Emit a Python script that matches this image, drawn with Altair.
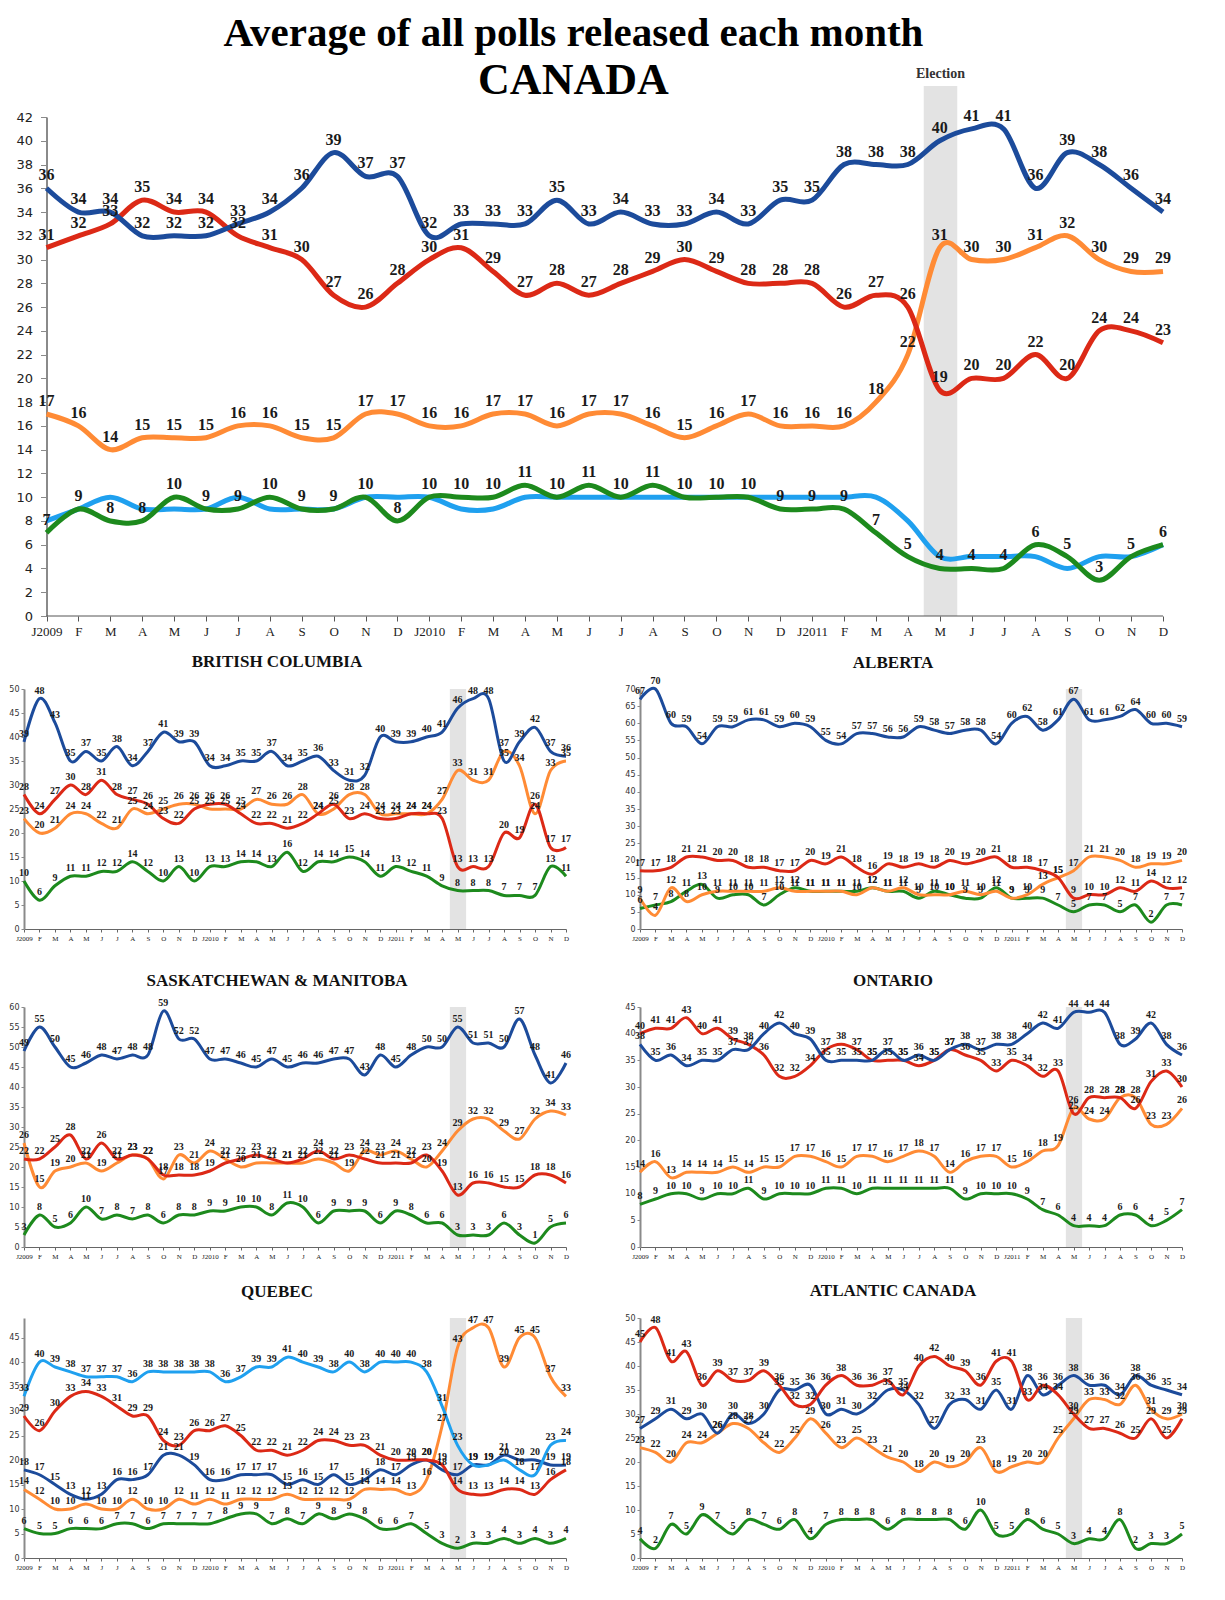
import altair as alt
import pandas as pd

SERIF = "Liberation Serif"
SANS = "DejaVu Sans"

MONTH_LABELS = ["J2009", "F", "M", "A", "M", "J", "J", "A", "S", "O", "N", "D",
                "J2010", "F", "M", "A", "M", "J", "J", "A", "S", "O", "N", "D",
                "J2011", "F", "M", "A", "M", "J", "J", "A", "S", "O", "N", "D"]

COLORS = {"CPC": "#1c4b9b", "LPC": "#dc2916", "NDP": "#ff8b35",
          "BQ": "#1fa0ef", "GPC": "#1d8a1d"}
BAND_COLOR = "#e3e3e3"
ELECTION_START = 27.5
ELECTION_END = 28.55

# ---------------- CANADA ----------------
can_cpc = [36, 34, 34, 32, 32, 32, 33, 34, 36, 39, 37, 37, 32, 33, 33, 33, 35, 33,
           34, 33, 33, 34, 33, 35, 35, 38, 38, 38, 40, 41, 41, 36, 39, 38, 36, 34]
can_lpc = [31, 32, 33, 35, 34, 34, 32, 31, 30, 27, 26, 28, 30, 31, 29, 27, 28, 27,
           28, 29, 30, 29, 28, 28, 28, 26, 27, 26, 19, 20, 20, 22, 20, 24, 24, 23]
can_ndp = [17, 16, 14, 15, 15, 15, 16, 16, 15, 15, 17, 17, 16, 16, 17, 17, 16, 17,
           17, 16, 15, 16, 17, 16, 16, 16, 18, 22, 31, 30, 30, 31, 32, 30, 29, 29]
can_bq = [8, 9, 10, 9, 9, 9, 10, 9, 9, 9, 10, 10, 10, 9, 9, 10, 10, 10,
          10, 10, 10, 10, 10, 10, 10, 10, 10, 8, 5, 5, 5, 5, 4, 5, 5, 6]
can_gpc = [7, 9, 8, 8, 10, 9, 9, 10, 9, 9, 10, 8, 10, 10, 10, 11, 10, 11,
           10, 11, 10, 10, 10, 9, 9, 9, 7, 5, 4, 4, 4, 6, 5, 3, 5, 6]

# ---------------- BRITISH COLUMBIA ----------------
bc_cpc = [39, 48, 43, 35, 37, 35, 38, 34, 37, 41, 39, 39, 34, 34, 35, 35, 37, 34,
          35, 36, 33, 31, 32, 40, 39, 39, 40, 41, 46, 48, 48, 35, 39, 42, 37, 36]
bc_lpc = [28, 24, 27, 30, 28, 31, 28, 27, 26, 23, 22, 25, 26, 26, 24, 22, 22, 21,
          22, 24, 26, 23, 24, 23, 23, 24, 24, 23, 13, 13, 13, 20, 19, 26, 17, 17]
bc_ndp = [23, 20, 21, 24, 24, 22, 21, 25, 24, 25, 26, 26, 25, 25, 25, 27, 26, 26,
          28, 24, 25, 28, 28, 24, 24, 24, 24, 27, 33, 31, 31, 37, 34, 24, 33, 35]
bc_gpc = [10, 6, 9, 11, 11, 12, 12, 14, 12, 10, 13, 10, 13, 13, 14, 14, 13, 16,
          12, 14, 14, 15, 14, 11, 13, 12, 11, 9, 8, 8, 8, 7, 7, 7, 13, 11]

# ---------------- ALBERTA ----------------
ab_cpc = [67, 70, 60, 59, 54, 59, 59, 61, 61, 59, 60, 59, 55, 54, 57, 57, 56, 56,
          59, 58, 57, 58, 58, 54, 60, 62, 58, 61, 67, 61, 61, 62, 64, 60, 60, 59]
ab_lpc = [17, 17, 18, 21, 21, 20, 20, 18, 18, 17, 17, 20, 19, 21, 18, 16, 19, 18,
          19, 18, 20, 19, 20, 21, 18, 18, 17, 15, 9, 10, 10, 12, 11, 14, 12, 12]
ab_ndp = [9, 4, 12, 8, 10, 11, 11, 11, 11, 12, 11, 11, 11, 11, 10, 12, 11, 12,
          10, 10, 10, 11, 10, 11, 9, 10, 13, 15, 17, 21, 21, 20, 18, 19, 19, 20]
ab_gpc = [6, 7, 8, 11, 13, 9, 10, 10, 7, 10, 12, 11, 11, 11, 11, 12, 11, 11,
          9, 11, 10, 9, 9, 12, 9, 9, 9, 7, 5, 7, 7, 5, 7, 2, 7, 7]

# ---------------- SASKATCHEWAN & MANITOBA ----------------
sk_cpc = [49, 55, 50, 45, 46, 48, 47, 48, 48, 59, 52, 52, 47, 47, 46, 45, 47, 45,
          46, 46, 47, 47, 43, 48, 45, 48, 50, 50, 55, 51, 51, 50, 57, 48, 41, 46]
sk_lpc = [22, 22, 25, 28, 22, 26, 22, 23, 22, 18, 18, 18, 19, 21, 22, 23, 22, 21,
          22, 24, 22, 23, 22, 21, 21, 21, 23, 19, 13, 16, 16, 15, 15, 18, 18, 16]
sk_ndp = [26, 15, 19, 20, 21, 19, 21, 23, 22, 17, 23, 21, 24, 22, 20, 21, 21, 21,
          21, 22, 21, 19, 24, 23, 24, 22, 20, 24, 29, 32, 32, 29, 27, 32, 34, 33]
sk_gpc = [3, 8, 5, 6, 10, 7, 8, 7, 8, 6, 8, 8, 9, 9, 10, 10, 8, 11,
          10, 6, 9, 9, 9, 6, 9, 8, 6, 6, 3, 3, 3, 6, 3, 1, 5, 6]

# ---------------- ONTARIO ----------------
on_cpc = [38, 35, 36, 34, 35, 35, 37, 37, 40, 42, 40, 39, 35, 35, 35, 35, 37, 35,
          36, 35, 37, 38, 37, 38, 38, 40, 42, 41, 44, 44, 44, 38, 39, 42, 38, 36]
on_lpc = [40, 41, 41, 43, 40, 41, 39, 38, 36, 32, 32, 34, 37, 38, 37, 35, 35, 35,
          34, 35, 37, 36, 35, 33, 35, 34, 32, 33, 25, 28, 28, 28, 26, 31, 33, 30]
on_ndp = [14, 16, 13, 14, 14, 14, 15, 14, 15, 15, 17, 17, 16, 15, 17, 17, 16, 17,
          18, 17, 14, 16, 17, 17, 15, 16, 18, 19, 26, 24, 24, 28, 28, 23, 23, 26]
on_gpc = [8, 9, 10, 10, 9, 10, 10, 11, 9, 10, 10, 10, 11, 11, 10, 11, 11, 11,
          11, 11, 11, 9, 10, 10, 10, 9, 7, 6, 4, 4, 4, 6, 6, 4, 5, 7]

# ---------------- QUEBEC ----------------
qc_bq = [33, 40, 39, 38, 37, 37, 37, 36, 38, 38, 38, 38, 38, 36, 37, 39, 39, 41,
         40, 39, 38, 40, 38, 40, 40, 40, 38, 31, 23, 19, 19, 20, 18, 17, 23, 24]
qc_lpc = [29, 26, 30, 33, 34, 33, 31, 29, 29, 24, 23, 26, 26, 27, 25, 22, 22, 21,
          22, 24, 24, 23, 23, 21, 20, 20, 20, 19, 14, 13, 13, 14, 14, 13, 16, 18]
qc_cpc = [18, 17, 15, 13, 12, 13, 16, 16, 17, 21, 21, 19, 16, 16, 17, 17, 17, 15,
          16, 15, 17, 15, 16, 18, 17, 19, 20, 18, 17, 19, 19, 21, 20, 20, 19, 19]
qc_ndp = [14, 12, 10, 10, 11, 10, 10, 12, 10, 10, 12, 11, 12, 11, 12, 12, 12, 13,
          12, 12, 12, 12, 14, 14, 14, 13, 16, 27, 43, 47, 47, 39, 45, 45, 37, 33]
qc_gpc = [6, 5, 5, 6, 6, 6, 7, 7, 6, 7, 7, 7, 7, 8, 9, 9, 7, 8,
          7, 9, 8, 9, 8, 6, 6, 7, 5, 3, 2, 3, 3, 4, 3, 4, 3, 4]

# ---------------- ATLANTIC CANADA ----------------
at_lpc = [45, 48, 41, 43, 36, 39, 37, 37, 39, 36, 32, 32, 36, 38, 36, 36, 37, 34,
          40, 42, 40, 39, 36, 41, 41, 33, 36, 34, 30, 27, 27, 26, 25, 29, 25, 29]
at_cpc = [27, 29, 31, 29, 30, 26, 30, 28, 30, 35, 35, 36, 30, 31, 30, 32, 35, 35,
          32, 27, 32, 33, 31, 35, 31, 38, 34, 36, 38, 36, 36, 34, 38, 36, 35, 34]
at_ndp = [23, 22, 20, 24, 24, 26, 28, 27, 24, 22, 25, 29, 26, 23, 25, 23, 21, 20,
          18, 20, 19, 20, 23, 18, 19, 20, 20, 25, 29, 33, 33, 32, 36, 31, 29, 30]
at_gpc = [4, 2, 7, 5, 9, 7, 5, 8, 7, 6, 8, 4, 7, 8, 8, 8, 6, 8,
          8, 8, 8, 6, 10, 5, 5, 8, 6, 5, 3, 4, 4, 8, 2, 3, 3, 5]

LABEL_EXPR = "[" + ",".join("'%s'" % m for m in MONTH_LABELS) + "][datum.value]"


def build(title, series, labelled, ymax, ticks, width, height, big=False, inset=0.0):
    lw = 5 if big else 3
    fs = 16 if big else 10
    dy = -13 if big else -8
    # inset: pixels between the left edge of the plot area and the first month
    xmin = -inset * 35.0 / (width - inset) if inset else 0
    if big:
        xaxis = alt.Axis(values=list(range(36)), labelExpr=LABEL_EXPR, title=None, grid=False,
                         labelFont=SERIF, labelFontSize=13, labelColor="#222", tickSize=5,
                         tickColor="#555", domain=False, labelPadding=4,
                         labelOverlap=False, labelFlush=False)
        yaxis = alt.Axis(values=ticks, title=None, grid=False, labelFont=SANS, labelFontSize=13,
                         labelColor="#222", tickSize=6, tickColor="#8a8a8a", domainColor="#8a8a8a",
                         domainWidth=2, labelPadding=8, labelFlush=False, offset=-inset)
        band_top = ymax + 2.6
    else:
        xaxis = alt.Axis(values=list(range(36)), labelExpr=LABEL_EXPR, title=None, grid=False,
                         labelFont=SERIF, labelFontSize=7, labelColor="#222", tickSize=3,
                         tickColor="#666", domainColor="#666", labelPadding=2,
                         labelOverlap=False, labelFlush=False)
        yaxis = alt.Axis(values=ticks, title=None, grid=False, labelFont=SANS, labelFontSize=8,
                         labelColor="#333", tickSize=3, tickColor="#8a8a8a", domainColor="#8a8a8a",
                         domainWidth=2, labelPadding=2, labelFlush=False)
        band_top = ymax
    x_enc = alt.X("i:Q", scale=alt.Scale(domain=[xmin, 35], nice=False, zero=False), axis=xaxis)
    y_enc = alt.Y("v:Q", scale=alt.Scale(domain=[0, ymax], nice=False, zero=False), axis=yaxis)

    band_df = pd.DataFrame({"i": [ELECTION_START], "i2": [ELECTION_END], "v": [0], "v2": [band_top]})
    layers = [alt.Chart(band_df).mark_rect(color=BAND_COLOR).encode(
        x=x_enc, x2="i2:Q", y=y_enc, y2="v2:Q")]
    if big:
        base_df = pd.DataFrame({"i": [0], "i2": [35], "v": [0]})
        layers.append(alt.Chart(base_df).mark_rule(color="#555", strokeWidth=1).encode(
            x=x_enc, x2="i2:Q", y=y_enc))
        el_df = pd.DataFrame({"i": [(ELECTION_START + ELECTION_END) / 2], "v": [ymax + 3.6],
                              "t": ["Election"]})
        layers.append(alt.Chart(el_df).mark_text(font=SERIF, fontSize=14, fontWeight="bold",
                                                 color="#333", baseline="middle").encode(
            x=x_enc, y=y_enc, text="t:N"))
    for party, vals in series:
        d = pd.DataFrame({"i": list(range(len(vals))), "v": vals})
        layers.append(alt.Chart(d).mark_line(interpolate="cardinal", strokeWidth=lw,
                                             color=COLORS[party]).encode(x=x_enc, y=y_enc))
    maxlab = 0
    for party, vals in series:
        if party in labelled:
            maxlab = max(maxlab, max(vals))
            d = pd.DataFrame({"i": list(range(len(vals))), "v": vals})
            layers.append(alt.Chart(d).mark_text(font=SERIF, fontSize=fs, fontWeight="bold",
                                                 color="#1a1a1a", dy=dy).encode(
                x=x_enc, y=y_enc, text="v:Q"))
    chart = alt.layer(*layers).properties(width=width, height=height)
    if title:
        overflow = max(0.0, 13 - (ymax - maxlab) * height / ymax)
        chart = chart.properties(title=alt.TitleParams(
            title, font=SERIF, fontSize=17, fontWeight="bold", anchor="middle",
            color="#111", dx=-18, offset=max(0.0, 17 - overflow)))
    return chart


W, H = 542, 240
T5 = lambda top: list(range(0, top + 1, 5))

main = build(None,
             [("BQ", can_bq), ("GPC", can_gpc), ("NDP", can_ndp), ("LPC", can_lpc), ("CPC", can_cpc)],
             ["CPC", "LPC", "NDP", "GPC"], 42, list(range(0, 43, 2)), 1139, 499, big=True, inset=22.5)

four = ["CPC", "LPC", "NDP", "GPC"]
bc = build("BRITISH COLUMBIA", [("GPC", bc_gpc), ("NDP", bc_ndp), ("LPC", bc_lpc), ("CPC", bc_cpc)],
           four, 50, T5(50), W, H)
ab = build("ALBERTA", [("GPC", ab_gpc), ("NDP", ab_ndp), ("LPC", ab_lpc), ("CPC", ab_cpc)],
           four, 70, T5(70), W, H)
sk = build("SASKATCHEWAN & MANITOBA", [("GPC", sk_gpc), ("NDP", sk_ndp), ("LPC", sk_lpc), ("CPC", sk_cpc)],
           four, 60, T5(60), W, H)
on = build("ONTARIO", [("GPC", on_gpc), ("NDP", on_ndp), ("LPC", on_lpc), ("CPC", on_cpc)],
           four, 45, T5(45), W, H)
qc = build("QUEBEC", [("GPC", qc_gpc), ("NDP", qc_ndp), ("CPC", qc_cpc), ("LPC", qc_lpc), ("BQ", qc_bq)],
           ["BQ", "CPC", "LPC", "NDP", "GPC"], 49, T5(45), W, H)
at = build("ATLANTIC CANADA", [("GPC", at_gpc), ("NDP", at_ndp), ("CPC", at_cpc), ("LPC", at_lpc)],
           four, 50, T5(50), W, H)

row1 = alt.hconcat(bc, ab, spacing=74, bounds="flush")
row2 = alt.hconcat(sk, on, spacing=74, bounds="flush")
row3 = alt.hconcat(qc, at, spacing=74, bounds="flush")
rows = alt.vconcat(alt.vconcat(row1, row2, spacing=31), row3, spacing=23)

chart = alt.vconcat(main, rows, spacing=15).properties(
    title=alt.TitleParams("Average of all polls released each month",
                          subtitle="CANADA",
                          font=SERIF, fontSize=41, fontWeight="bold",
                          subtitleFont=SERIF, subtitleFontSize=44, subtitleFontWeight="bold",
                          subtitleColor="#000", subtitlePadding=4,
                          anchor="middle", color="#000", offset=-37, dx=-25),
    padding={"left": 0, "top": 5, "right": 5, "bottom": 5},
    background="white",
).configure_view(stroke=None)

chart.save("out.html", embed_options={"renderer": "svg", "actions": False})
